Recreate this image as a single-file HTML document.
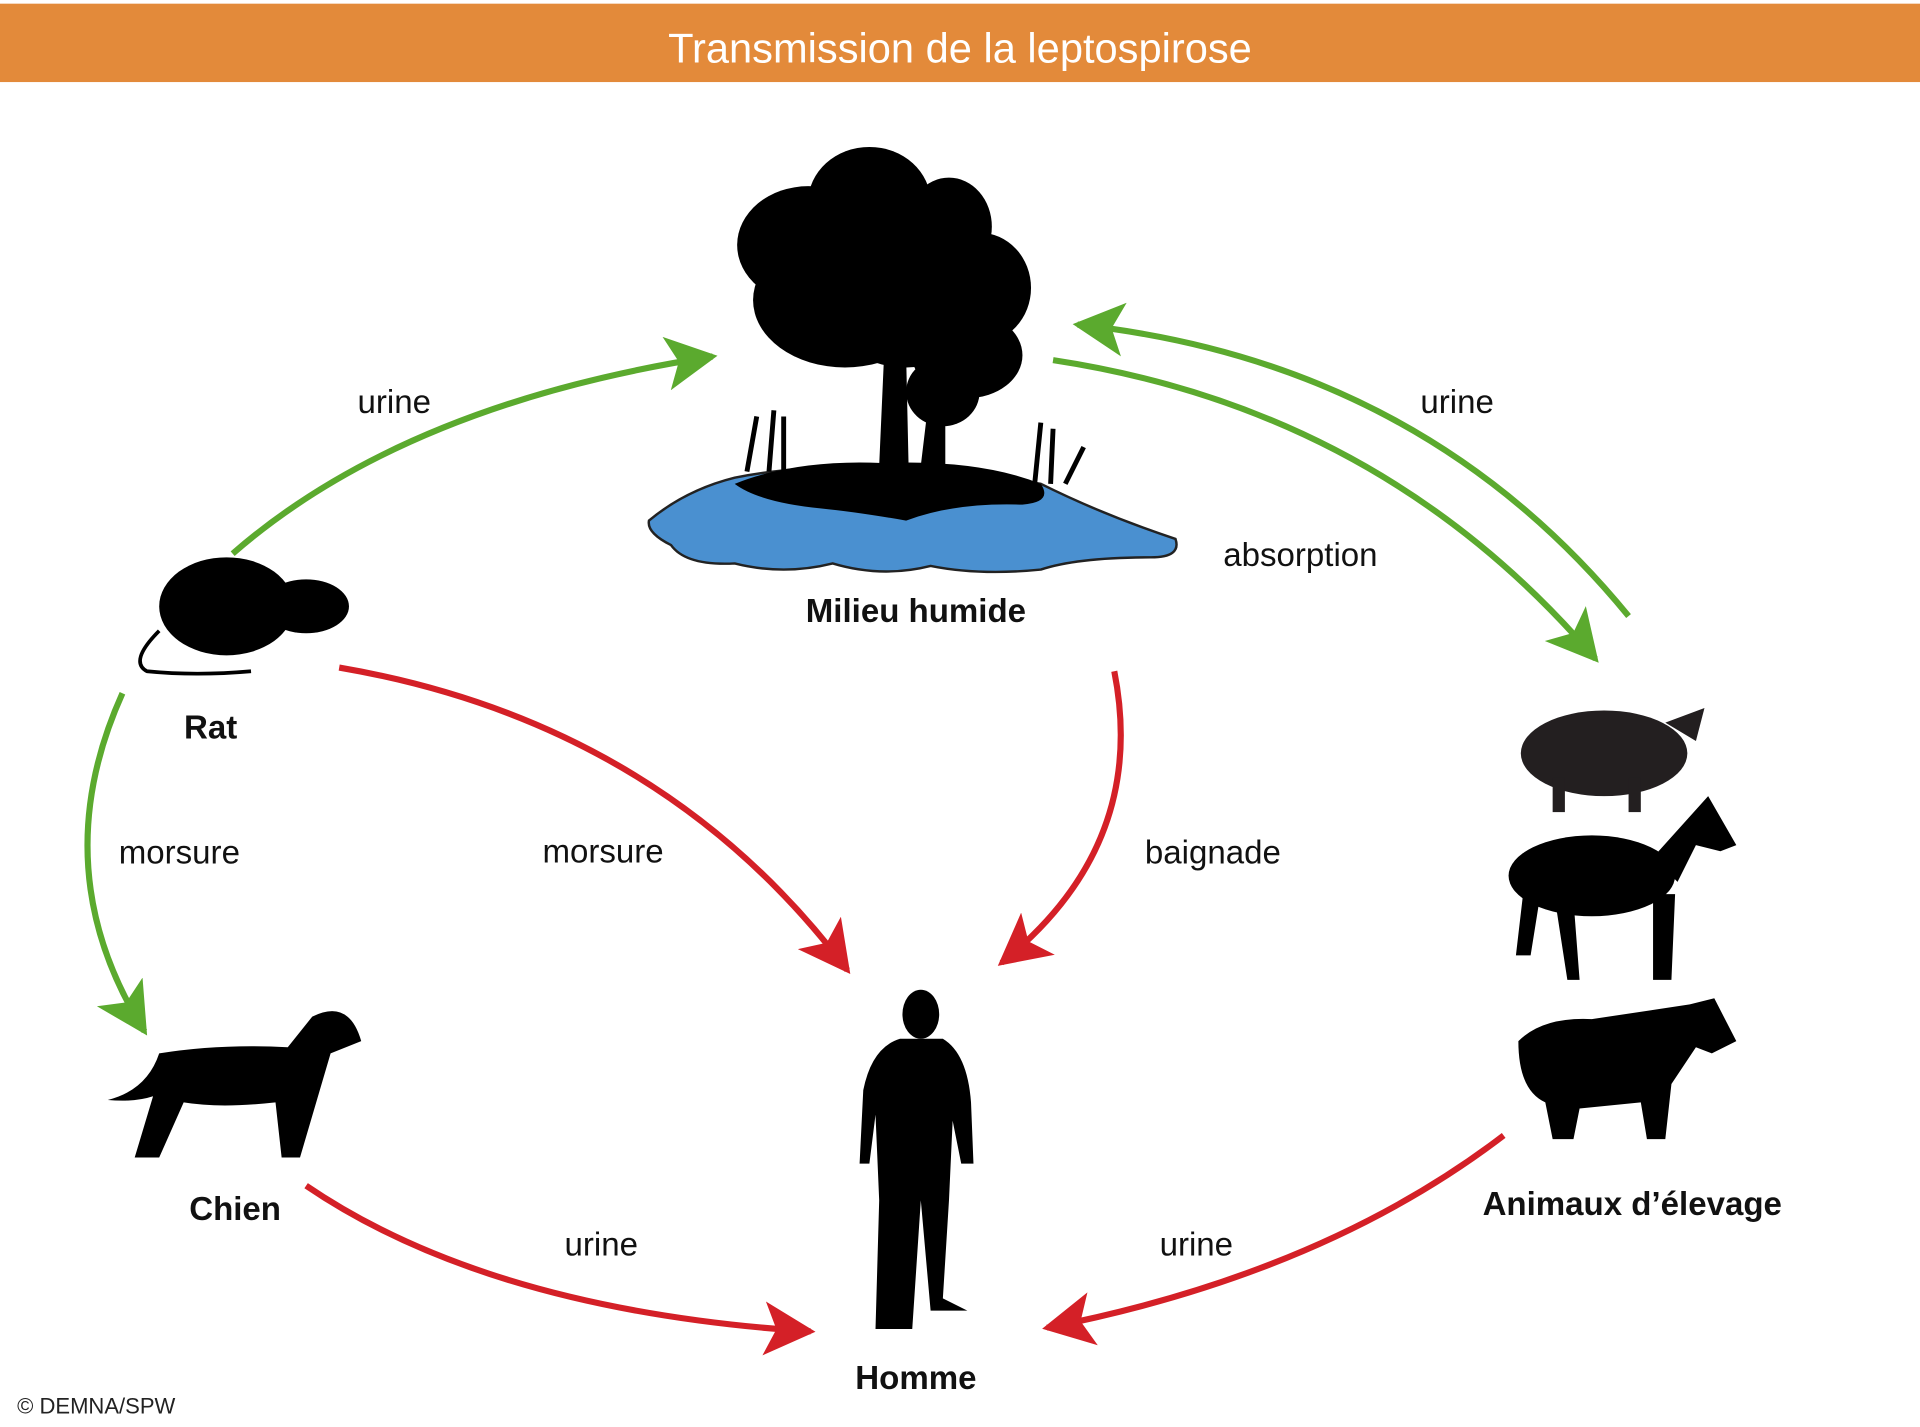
<!DOCTYPE html>
<html><head><meta charset="utf-8"><style>
html,body{margin:0;padding:0;background:#fff;}
svg{display:block;}
text{font-family:"Liberation Sans",sans-serif;}
</style></head><body>
<svg width="1920" height="1427" viewBox="0 0 1568 1165" preserveAspectRatio="none" xmlns="http://www.w3.org/2000/svg">
<defs>
<marker id="g" markerUnits="userSpaceOnUse" markerWidth="48" markerHeight="48" refX="38" refY="22" orient="auto"><path d="M0,0 L42,22 L0,44 L10,22 Z" fill="#5BAA2E"/></marker>
<marker id="r" markerUnits="userSpaceOnUse" markerWidth="48" markerHeight="48" refX="38" refY="22" orient="auto"><path d="M0,0 L42,22 L0,44 L10,22 Z" fill="#D42027"/></marker>
</defs>
<rect x="0" y="3" width="1568" height="64" fill="#E38A3A"/>
<text x="784" y="51" font-size="34" fill="#fff" text-anchor="middle">Transmission de la leptospirose</text>

<!-- tree + pond -->
<path d="M530,425 Q560,400 600,390 Q700,370 850,395 Q900,420 960,440 Q965,455 940,455 Q880,455 850,465 Q800,470 760,462 Q720,472 680,460 Q640,470 600,460 Q560,462 548,445 Q528,435 530,425 Z" fill="#4A90D0" stroke="#222" stroke-width="2"/>
<path d="M600,395 Q650,375 720,378 Q800,375 850,395 Q860,410 835,412 Q780,410 740,425 Q700,418 670,415 Q620,410 600,395 Z" fill="#000"/>
<path d="M718,380 L722,290 L740,290 L742,380 Z M752,380 L758,330 L772,330 L772,380 Z" fill="#000"/>
<ellipse cx="710" cy="165" rx="50" ry="45" fill="#000"/>
<ellipse cx="660" cy="200" rx="58" ry="48" fill="#000"/>
<ellipse cx="775" cy="185" rx="35" ry="40" fill="#000"/>
<ellipse cx="800" cy="235" rx="42" ry="45" fill="#000"/>
<ellipse cx="690" cy="245" rx="75" ry="55" fill="#000"/>
<ellipse cx="740" cy="240" rx="70" ry="60" fill="#000"/>
<ellipse cx="790" cy="290" rx="45" ry="35" fill="#000"/>
<ellipse cx="770" cy="320" rx="30" ry="28" fill="#000"/>
<path d="M610,385 L618,340 M628,385 L632,335 M640,385 L640,340 M845,395 L850,345 M858,395 L860,350 M870,395 L885,365" stroke="#000" stroke-width="4"/>

<!-- rat -->
<ellipse cx="185" cy="495" rx="55" ry="40" fill="#000"/>
<ellipse cx="250" cy="495" rx="35" ry="22" fill="#000"/>
<path d="M130,515 Q105,540 120,548 Q160,552 205,548" stroke="#000" stroke-width="3" fill="none"/>

<!-- dog -->
<path d="M88,898 Q120,890 130,860 Q180,852 235,855 L255,830 Q285,815 295,850 L270,860 L245,945 L230,945 L225,900 Q180,905 150,900 L130,945 L110,945 L125,895 Q110,900 88,898 Z" fill="#000"/>

<!-- human -->
<ellipse cx="752" cy="828" rx="15" ry="20" fill="#000"/>
<path d="M735,848 L770,848 Q790,860 793,900 L795,950 L785,950 L778,915 L775,980 L770,1060 L790,1070 L760,1070 L752,980 L745,1085 L715,1085 L718,980 L715,910 L710,950 L702,950 L705,890 Q712,855 735,848 Z" fill="#000"/>

<!-- pig -->
<ellipse cx="1310" cy="615" rx="68" ry="35" fill="#231F20"/>
<path d="M1360,590 L1392,578 L1385,605 Z" fill="#231F20"/>
<rect x="1268" y="635" width="10" height="28" fill="#231F20"/><rect x="1330" y="635" width="10" height="28" fill="#231F20"/>
<!-- horse -->
<ellipse cx="1300" cy="715" rx="68" ry="33" fill="#000"/>
<path d="M1350,700 L1395,650 L1418,690 L1405,695 L1385,690 L1370,720 Z" fill="#000"/>
<path d="M1245,720 L1238,780 L1250,780 L1258,730 Z M1270,735 L1280,800 L1290,800 L1285,735 Z M1350,730 L1350,800 L1365,800 L1368,730 Z" fill="#000"/>
<!-- cow -->
<path d="M1240,850 Q1260,830 1300,832 L1380,820 L1400,815 L1418,850 L1398,860 L1385,855 L1365,885 L1360,930 L1345,930 L1340,900 L1290,905 L1285,930 L1268,930 L1262,900 Q1240,890 1240,850 Z" fill="#000"/>

<!-- arrows -->
<g fill="none" stroke-width="5">
<path d="M190,452 Q330,330 582,291" stroke="#5BAA2E" marker-end="url(#g)"/>
<path d="M860,294 Q1130,335 1303,538" stroke="#5BAA2E" marker-end="url(#g)"/>
<path d="M1330,503 Q1160,295 880,265" stroke="#5BAA2E" marker-end="url(#g)"/>
<path d="M100,566 Q35,710 118,842" stroke="#5BAA2E" marker-end="url(#g)"/>
<path d="M277,545 Q540,590 692,792" stroke="#D42027" marker-end="url(#r)"/>
<path d="M910,548 Q938,690 818,786" stroke="#D42027" marker-end="url(#r)"/>
<path d="M250,968 Q400,1070 662,1087" stroke="#D42027" marker-end="url(#r)"/>
<path d="M1228,927 Q1080,1040 855,1084" stroke="#D42027" marker-end="url(#r)"/>
</g>

<g font-size="27" fill="#111">
<text x="292" y="337">urine</text>
<text x="1160" y="337">urine</text>
<text x="999" y="462">absorption</text>
<text x="97" y="705">morsure</text>
<text x="443" y="704">morsure</text>
<text x="935" y="705">baignade</text>
<text x="461" y="1025">urine</text>
<text x="947" y="1025">urine</text>
</g>
<g font-size="27" font-weight="bold" fill="#111">
<text x="748" y="508" text-anchor="middle">Milieu humide</text>
<text x="172" y="603" text-anchor="middle">Rat</text>
<text x="192" y="996" text-anchor="middle">Chien</text>
<text x="1333" y="992" text-anchor="middle">Animaux d’élevage</text>
<text x="748" y="1134" text-anchor="middle">Homme</text>
</g>
<text x="14" y="1154" font-size="18" fill="#222">© DEMNA/SPW</text>
</svg>
</body></html>
